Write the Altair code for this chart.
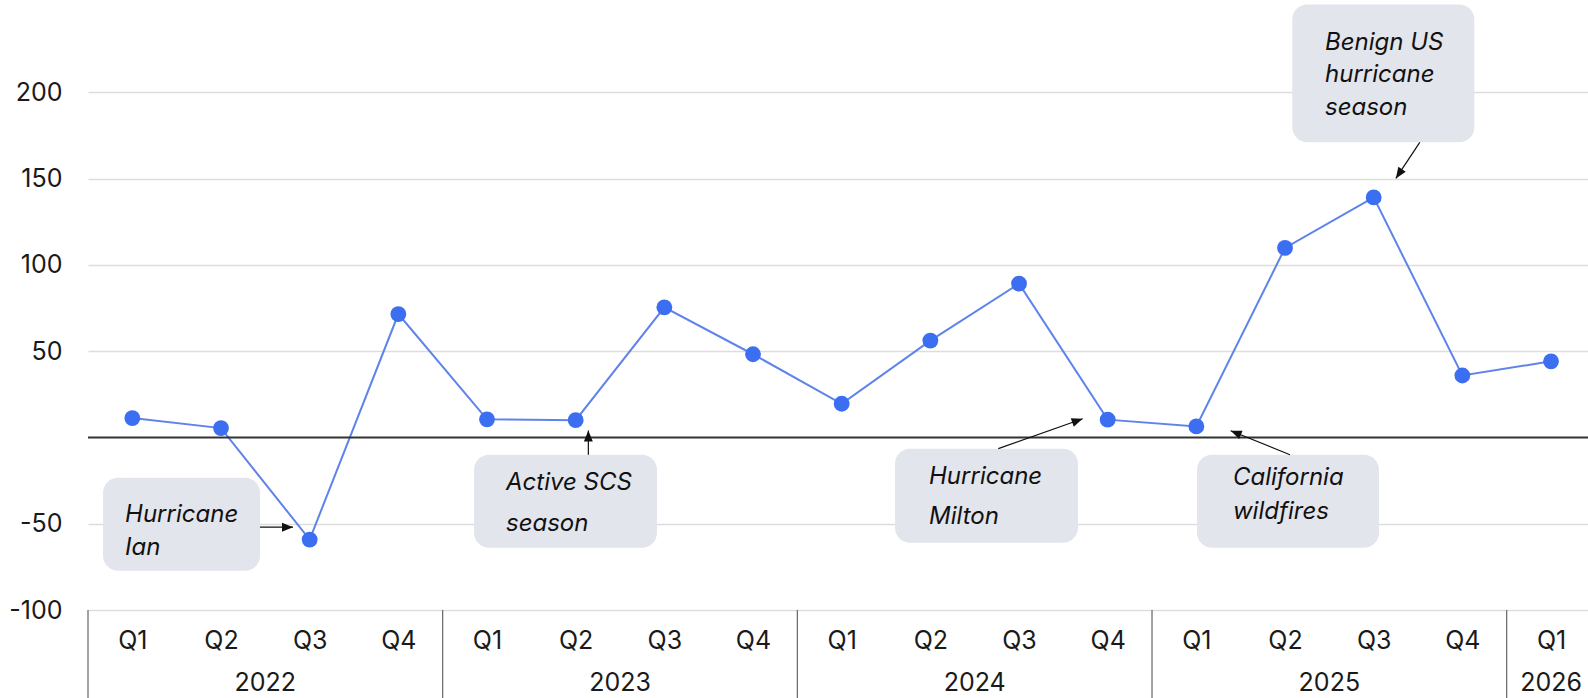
import altair as alt
import pandas as pd

# ---------------- data ----------------
quarters = ["Q1", "Q2", "Q3", "Q4"] * 4 + ["Q1"]
years_of_points = [2022]*4 + [2023]*4 + [2024]*4 + [2025]*4 + [2026]
values = [11.2, 5.4, -59.2, 71.5, 10.5, 10.0, 75.4, 48.2,
          19.5, 56.1, 89.1, 10.3, 6.4, 109.8, 139.1, 35.9, 44.1]

year_labels = ["2022", "2023", "2024", "2025", "2026"]
year_label_pos = [1.5, 5.5, 9.5, 13.5, 16.0]
year_separators = [-0.5, 3.5, 7.5, 11.5, 15.5]

y_ticks = [-100, -50, 50, 100, 150, 200]

# annotation boxes (x in quarter index units, y in data units)
box_x1 = [-0.33, 3.854, 8.601, 12.007, 13.082]
box_x2 = [1.44, 5.917, 10.665, 14.060, 15.135]
box_y1 = [-23.4, -10.0, -6.5, -10.0, 250.8]
box_y2 = [-77.3, -63.9, -61.0, -63.9, 171.0]

# annotation text lines
ann_text = ["Hurricane", "Ian", "Active SCS", "season", "Hurricane", "Milton",
            "California", "wildfires", "Benign US", "hurricane", "season"]
ann_x = [-0.082, -0.082, 4.214, 4.214, 8.985, 8.985, 12.413, 12.413,
         13.451, 13.451, 13.451]
ann_y = [-44.8, -63.9, -26.3, -50.0, -22.8, -46.0, -23.4, -43.1,
         228.8, 210.3, 191.1]

# arrows: start (box side) -> tip
arr_x1 = [1.44, 5.143, 9.767, 13.056, 14.520]
arr_y1 = [-52.0, -10.0, -6.5, -10.0, 171.0]
arr_x2 = [1.812, 5.143, 10.718, 12.387, 14.250]
arr_y2 = [-52.0, 4.0, 10.8, 3.9, 150.1]
arr_angle = [90, 0, 70.4, 292, 214]

# ---------------- frames ----------------
df = pd.DataFrame({"i": list(range(len(values))), "q": quarters,
                   "year": years_of_points, "v": values})
df_years = pd.DataFrame({"label": year_labels, "x": year_label_pos})
df_sep = pd.DataFrame({"x": year_separators})
df_box = pd.DataFrame({"x1": box_x1, "x2": box_x2, "y1": box_y1, "y2": box_y2})
df_ann = pd.DataFrame({"t": ann_text, "x": ann_x, "y": ann_y})
df_arr = pd.DataFrame({"x1": arr_x1, "y1": arr_y1, "x2": arr_x2, "y2": arr_y2,
                       "a": arr_angle})
df_zero = pd.DataFrame({"y": [0]})

FONT = "Inter"
X_DOMAIN = [-0.5, 16.417]
Y_DOMAIN = [-100, 250]
W, H = 1500, 604

xs = alt.Scale(domain=X_DOMAIN, nice=False, zero=False)
ys = alt.Scale(domain=Y_DOMAIN, nice=False, zero=False)

x_axis = alt.Axis(values=list(range(17)),
                  labelExpr="['Q1','Q2','Q3','Q4'][datum.value % 4]",
                  ticks=False, domain=False, grid=False, title=None,
                  labelFont=FONT, labelFontSize=25, labelColor="#1a1a1a",
                  labelBaseline="middle", labelPadding=30, labelFlush=False)
y_axis = alt.Axis(values=y_ticks, ticks=False, domain=False, title=None,
                  grid=True, gridColor="#dddddd", gridWidth=1.5,
                  labelExpr="'' + datum.value",
                  labelFont=FONT, labelFontSize=25, labelColor="#1a1a1a",
                  labelPadding=26)

base = alt.Chart(df)

line = base.mark_line(color="#5f83ea", strokeWidth=2).encode(
    x=alt.X("i:Q", scale=xs, axis=x_axis),
    y=alt.Y("v:Q", scale=ys, axis=y_axis),
)
pts = base.mark_circle(size=250, color="#3b6ef0", opacity=1).encode(
    x=alt.X("i:Q", scale=xs), y=alt.Y("v:Q", scale=ys)
)

zero = alt.Chart(df_zero).mark_rule(color="#333333", strokeWidth=2).encode(
    y=alt.Y("y:Q", scale=ys), x=alt.value(0), x2=alt.value(W)
)

seps = alt.Chart(df_sep).mark_rule(color="#666666", strokeWidth=1.2).encode(
    x=alt.X("x:Q", scale=xs), y=alt.value(H), y2=alt.value(H + 90)
)

yrs = alt.Chart(df_years).mark_text(font=FONT, fontSize=25, color="#1a1a1a",
                                    baseline="middle", align="center").encode(
    x=alt.X("x:Q", scale=xs), y=alt.value(H + 73), text="label:N"
)

boxes = alt.Chart(df_box).mark_rect(color="#e2e5ec", cornerRadius=15).encode(
    x=alt.X("x1:Q", scale=xs), x2="x2:Q",
    y=alt.Y("y1:Q", scale=ys), y2="y2:Q"
)

ann = alt.Chart(df_ann).mark_text(font=FONT, fontSize=24, fontStyle="italic",
                                  color="#111111", align="left",
                                  baseline="middle").encode(
    x=alt.X("x:Q", scale=xs), y=alt.Y("y:Q", scale=ys), text="t:N"
)

arr_lines = alt.Chart(df_arr).mark_rule(color="#111111", strokeWidth=1.2).encode(
    x=alt.X("x1:Q", scale=xs), x2="x2:Q",
    y=alt.Y("y1:Q", scale=ys), y2="y2:Q"
)
arr_heads = alt.Chart(df_arr).mark_point(
    shape="M0,0 L-0.65,1.6 L0.65,1.6 Z", filled=True, size=190,
    color="#111111", opacity=1
).encode(
    x=alt.X("x2:Q", scale=xs), y=alt.Y("y2:Q", scale=ys),
    angle=alt.Angle("a:Q", scale=None)
)

chart = alt.layer(
    line, zero, seps, yrs, boxes, ann, arr_lines, arr_heads, pts
).properties(
    width=W, height=H,
    background="white",
    autosize=alt.AutoSizeParams(type="none"),
    padding={"left": 88, "top": 6, "right": 0, "bottom": 88},
).configure_view(stroke="transparent", strokeWidth=0).configure_axis(
    domain=False
)

chart.save("out.html", embed_options={"renderer": "svg", "actions": False})
